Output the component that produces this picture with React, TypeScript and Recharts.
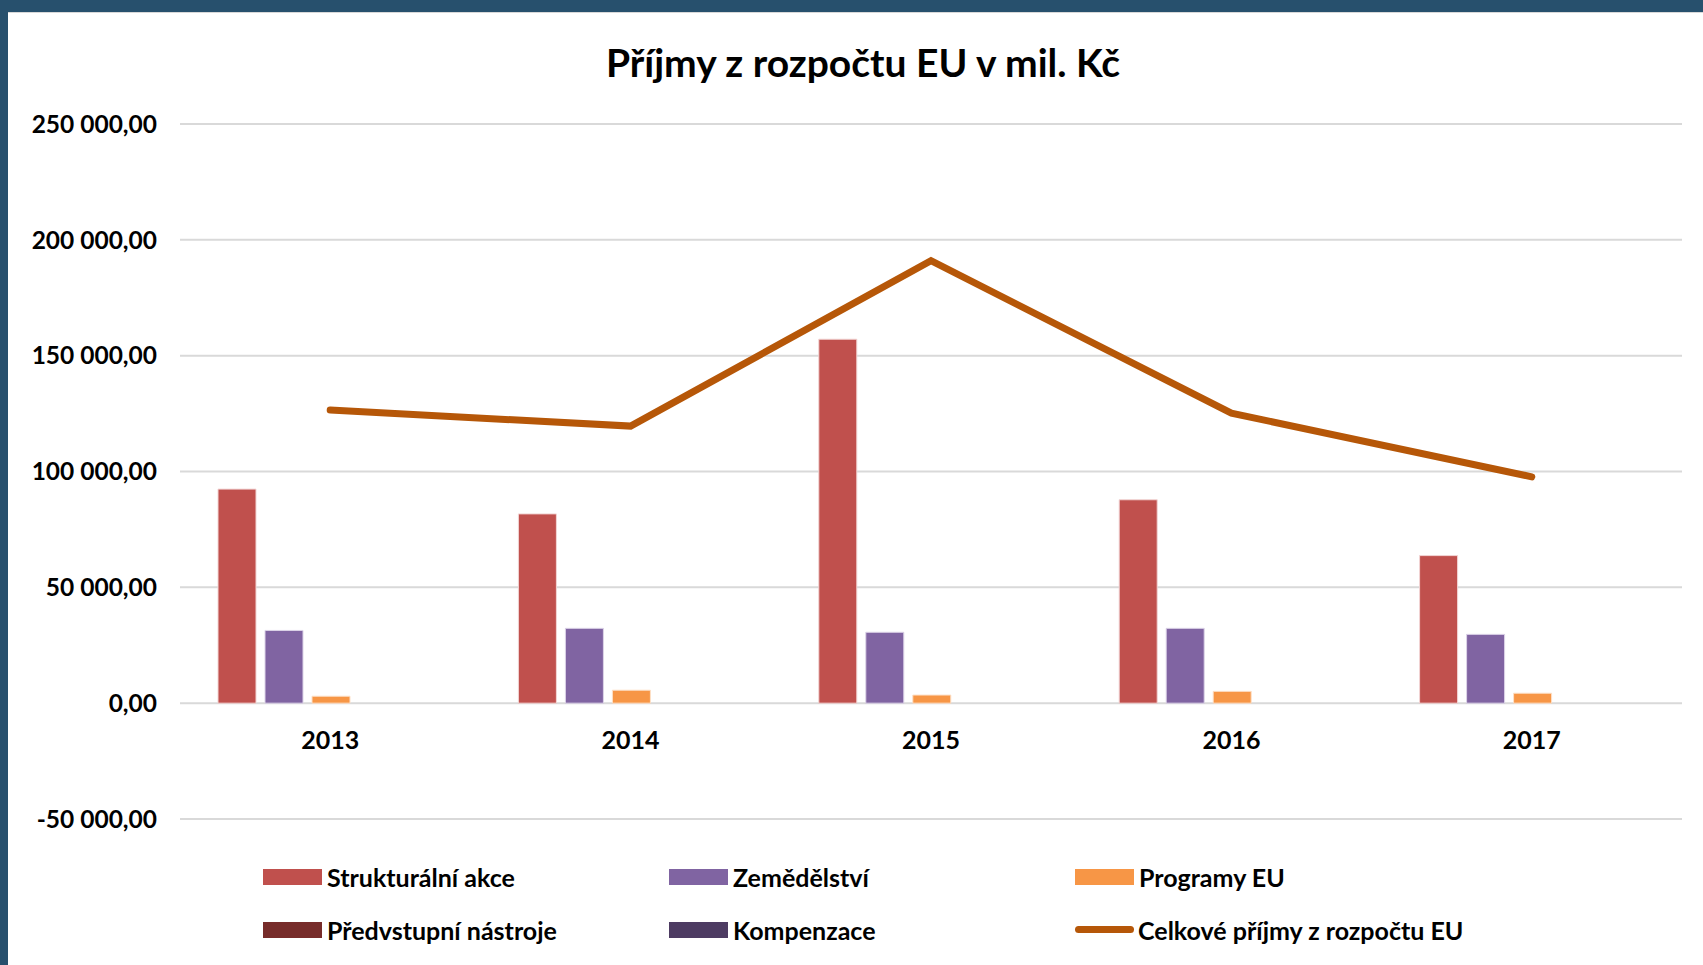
import React from "react";
import {
  ComposedChart,
  Bar,
  Line,
  XAxis,
  YAxis,
  CartesianGrid,
  Legend,
} from "recharts";

// hodnoty (mil. Kč)
const years = ["2013", "2014", "2015", "2016", "2017"];
const strukturalniAkce = [92400, 81700, 157100, 87800, 63700];
const zemedelstvi = [31400, 32300, 30600, 32300, 29700];
const programyEU = [3000, 5600, 3500, 5100, 4300];
const predvstupniNastroje = [0, 0, 0, 0, 0];
const kompenzace = [0, 0, 0, 0, 0];
const celkovePrijmy = [126500, 119600, 191000, 125200, 97700];

const yTicks = [-50000, 0, 50000, 100000, 150000, 200000, 250000];

const legendOrder = [
  "Strukturální akce",
  "Zemědělství",
  "Programy EU",
  "Předvstupní nástroje",
  "Kompenzace",
  "Celkové příjmy z rozpočtu EU",
];

const data = years.map((year, i) => ({
  year,
  strukturalni: strukturalniAkce[i],
  zemedelstvi: zemedelstvi[i],
  programy: programyEU[i],
  predvstupni: predvstupniNastroje[i],
  kompenzace: kompenzace[i],
  celkem: celkovePrijmy[i],
}));

const FONT = "Lato, 'Open Sans', sans-serif";

const fmt = (v: number) => {
  const sign = v < 0 ? "-" : "";
  const s = Math.abs(v)
    .toFixed(0)
    .replace(/\B(?=(\d{3})+(?!\d))/g, " ");
  return sign + s + ",00";
};

const YearTick = (props: any) => {
  const { x, y, payload } = props;
  return (
    <text
      x={x}
      y={y - 79}
      dy="0.35em"
      textAnchor="middle"
      fill="#000"
      fontSize={25}
      fontWeight={700}
      fontFamily={FONT}
    >
      {payload.value}
    </text>
  );
};

const LegendContent = (props: any) => {
  const items = [...(props.payload || [])].sort(
    (a: any, b: any) => legendOrder.indexOf(a.value) - legendOrder.indexOf(b.value)
  );
  return (
    <div
      style={{
        display: "grid",
        gridTemplateColumns: "406px 406px 406px",
        gridAutoRows: "53px",
        paddingTop: 4,
        paddingLeft: 263,
        fontFamily: FONT,
        fontSize: 25,
        fontWeight: 700,
        color: "#000",
      }}
    >
      {items.map((p: any) => (
        <div key={p.value} style={{ display: "flex", alignItems: "center" }}>
          {p.type === "line" ? (
            <div
              style={{
                width: 59,
                height: 7,
                borderRadius: 4,
                background: p.color,
                marginRight: 4,
              }}
            />
          ) : (
            <div
              style={{
                width: 59,
                height: 16,
                background: p.color,
                marginRight: 5,
              }}
            />
          )}
          <span>{p.value}</span>
        </div>
      ))}
    </div>
  );
};

export default function App() {
  return (
    <div
      style={{
        position: "absolute",
        left: 0,
        top: 0,
        width: 1703,
        height: 965,
        background: "#27506d",
        overflow: "hidden",
      }}
    >
      <div
        style={{
          position: "absolute",
          left: 8,
          top: 12,
          right: 0,
          bottom: 0,
          background: "#fff",
          borderTop: "1px solid #d8d8d8",
        }}
      />
      <div
        style={{
          position: "absolute",
          left: 863,
          top: 62,
          transform: "translate(-50%, -50%)",
          fontFamily: FONT,
          fontSize: 39,
          fontWeight: 700,
          color: "#000",
          whiteSpace: "nowrap",
        }}
      >
        Příjmy z rozpočtu EU v mil. Kč
      </div>
      <div style={{ position: "absolute", left: 0, top: 0 }}>
        <ComposedChart
          width={1703}
          height={965}
          data={data}
          margin={{ top: 124, right: 21, left: 0, bottom: 6 }}
          barCategoryGap={38}
          barGap={9}
        >
          <CartesianGrid
            vertical={false}
            stroke="#d9d9d9"
            strokeWidth={2}
          />
          <XAxis
            dataKey="year"
            axisLine={false}
            tickLine={false}
            tickSize={0}
            tickMargin={0}
            height={30}
            tick={<YearTick />}
          />
          <YAxis
            domain={[-50000, 250000]}
            ticks={yTicks}
            width={180}
            axisLine={false}
            tickLine={false}
            tickSize={6}
            tickMargin={17}
            tickFormatter={fmt}
            tick={{
              fill: "#000",
              fontSize: 24.5,
              fontWeight: 700,
              fontFamily: FONT,
            }}
          />
          <Legend
            verticalAlign="bottom"
            content={<LegendContent />}
            wrapperStyle={{ top: 846, left: 0, width: 1703, height: 110 }}
          />
          <Bar
            dataKey="strukturalni"
            name="Strukturální akce"
            fill="#c0504d"
            stroke="#f2d6d5"
            strokeWidth={1}
            isAnimationActive={false}
          />
          <Bar
            dataKey="zemedelstvi"
            name="Zemědělství"
            fill="#8064a2"
            stroke="#ddd4e8"
            strokeWidth={1}
            isAnimationActive={false}
          />
          <Bar
            dataKey="programy"
            name="Programy EU"
            fill="#f79646"
            stroke="#fde0c8"
            strokeWidth={1}
            isAnimationActive={false}
          />
          <Bar
            dataKey="predvstupni"
            name="Předvstupní nástroje"
            fill="#772c2a"
            isAnimationActive={false}
          />
          <Bar
            dataKey="kompenzace"
            name="Kompenzace"
            fill="#4d3b62"
            isAnimationActive={false}
          />
          <Line
            dataKey="celkem"
            name="Celkové příjmy z rozpočtu EU"
            type="linear"
            stroke="#b65708"
            strokeWidth={7}
            strokeLinecap="round"
            strokeLinejoin="miter"
            dot={false}
            activeDot={false}
            legendType="line"
            isAnimationActive={false}
          />
        </ComposedChart>
      </div>
    </div>
  );
}
